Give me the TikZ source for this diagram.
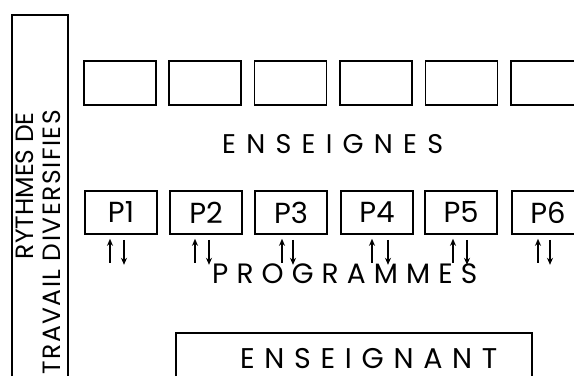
\documentclass[tikz,border=0pt]{standalone}
\usepackage{fontspec}
\setmainfont{Poppins}
\usepackage{tikz}
\usetikzlibrary{positioning,arrows.meta,calc}
\tikzset{
  cadre/.style={
    draw,
    line width=1.6pt,
    minimum width=72pt,
    minimum height=44pt,
    inner sep=0pt
  },
  prog box/.style={
    cadre,
    minimum height=43pt,
    font=\fontsize{29}{32}\selectfont
  },
  titre/.style={
    inner sep=0pt,
    anchor=base west
  },
  vertical/.style={
    inner sep=0pt,
    rotate=90,
    anchor=base east,
    font=\fontsize{25}{28}\selectfont
  },
  arrow/.style={
    -{Stealth[length=7pt,width=6pt]},
    line width=1.4pt
  }
}

\begin{document}
\begin{tikzpicture}[x=1pt,y=-1pt]
  \useasboundingbox (0,0) rectangle (574,376);
  \clip (0,0) rectangle (574,376);

  % Left column
  \coordinate (lb) at (12,376);
  \coordinate (lt) at (12,15);
  \coordinate (rt) at (68,15);
  \coordinate (rb) at (68,376);
  \draw[line width=1.4pt] (lb) -- (lt) -- (rt) -- (rb);
  \node[vertical] (rythmes) at (33,112) {RYTHMES DE};
  \node[vertical, font=\addfontfeatures{LetterSpace=6}\fontsize{25}{28}\selectfont]
    (travail) at (60,110) {TRAVAIL DIVERSIFIES};

  % Enseignes
  \foreach \x [count=\i] in {120,205,290.5,376,461.5,547} {
    \node[cadre] (e\i) at (\x,83) {};
  }
  \node[titre, font=\addfontfeatures{LetterSpace=38}\fontsize{27}{30}\selectfont]
    (enseignes) at (222,153) {ENSEIGNES};

  % Programmes
  \foreach \x/\lab [count=\i] in {121/P1,206/P2,291/P3,377/P4,461/P5,548/P6} {
    \node[prog box] (p\i) at (\x,212.5) {\lab};
  }
  \foreach \i/\u/\d in {1/-11/3,2/-11/3,3/-9/2,4/-5/11,5/-8/6,6/-10/2} {
    \draw[arrow] ($(p\i.south)+(\u,28)$) -- ($(p\i.south)+(\u,4)$);
    \draw[arrow] ($(p\i.south)+(\d,5)$) -- ($(p\i.south)+(\d,30)$);
  }
  \node[titre, font=\addfontfeatures{LetterSpace=29}\fontsize{28}{31}\selectfont]
    (programmes) at (212,283) {PROGRAMMES};

  % Enseignant
  \coordinate (bl) at (176,376);
  \coordinate (tl) at (176,333);
  \coordinate (tr) at (532,333);
  \coordinate (br) at (532,376);
  \draw[line width=1.4pt] (bl) -- (tl) -- (tr) -- (br);
  \node[titre, font=\addfontfeatures{LetterSpace=34}\fontsize{28.5}{31}\selectfont]
    (enseignant) at (240,368) {ENSEIGNANT};

\end{tikzpicture}
\end{document}
